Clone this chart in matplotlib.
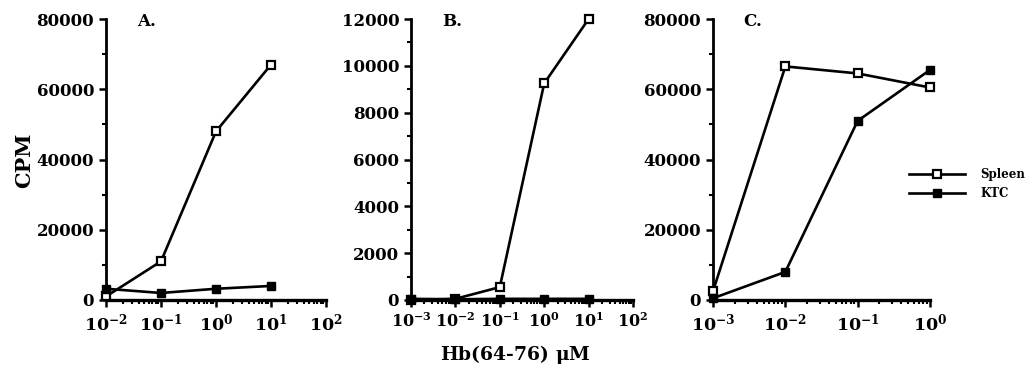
import matplotlib
matplotlib.use("Agg")
import matplotlib.pyplot as plt
from matplotlib.ticker import FixedLocator, FixedFormatter, LogLocator, NullFormatter, MultipleLocator
import numpy as np

plt.rcParams['font.family'] = 'DejaVu Serif'
plt.rcParams['font.weight'] = 'bold'
plt.rcParams['mathtext.fontset'] = 'dejavuserif'

# Panel A
a_dose = [1e-2, 1e-1, 1e0, 1e1]
a_spleen = [1000, 11000, 48000, 67000]
a_ktc = [3200, 2000, 3200, 4000]

# Panel B
b_dose = [1e-3, 1e-2, 1e-1, 1e0, 1e1]
b_spleen = [0, 50, 550, 9250, 12000]
b_ktc = [50, 30, 50, 50, 50]

# Panel C
c_dose = [1e-3, 1e-2, 1e-1, 1e0]
c_spleen = [2500, 66500, 64500, 60500]
c_ktc = [500, 8000, 51000, 65500]

panels = [
    ("A.", a_dose, a_spleen, a_ktc, (1e-2, 1e2), 80000, 20000, 10000, 12.5),
    ("B.", b_dose, b_spleen, b_ktc, (1e-3, 1e2), 12000, 2000, 1000, 11.5),
    ("C.", c_dose, c_spleen, c_ktc, (1e-3, 1e0), 80000, 20000, 10000, 12.5),
]
lefts = [106 / 1032, 411 / 1032, 713 / 1032]
widths = [220 / 1032, 222 / 1032, 217 / 1032]
bottom = 1 - 300 / 370
height = (300 - 19) / 370

fig = plt.figure(figsize=(10.32, 3.70), dpi=100)

for (label, dose, spleen, ktc, xlim, ymax, ymaj, ymin, xls), l, w in zip(panels, lefts, widths):
    ax = fig.add_axes([l, bottom, w, height])
    ax.plot(dose, spleen, color='black', lw=1.9, marker='s', ms=5.5,
            mfc='white', mec='black', mew=1.6, label='Spleen', clip_on=False, zorder=3)
    ax.plot(dose, ktc, color='black', lw=1.9, marker='s', ms=6,
            mfc='black', mec='black', label='KTC', clip_on=False, zorder=3)
    ax.set_xscale('log')
    ax.set_xlim(*xlim)
    ax.set_ylim(0, ymax)
    ax.spines['top'].set_visible(False)
    ax.spines['right'].set_visible(False)
    ax.spines['left'].set_linewidth(2)
    ax.spines['bottom'].set_linewidth(2.4)
    exps = list(range(int(np.log10(xlim[0])), int(np.log10(xlim[1])) + 1))
    ax.xaxis.set_major_locator(FixedLocator([10.0 ** e for e in exps]))
    ax.xaxis.set_major_formatter(FixedFormatter([r'$\mathbf{10^{%d}}$' % e for e in exps]))
    ax.xaxis.set_minor_locator(LogLocator(base=10, subs=np.arange(2, 10), numticks=20))
    ax.xaxis.set_minor_formatter(NullFormatter())
    ax.yaxis.set_major_locator(MultipleLocator(ymaj))
    ax.yaxis.set_minor_locator(MultipleLocator(ymin))
    ax.tick_params(axis='both', which='major', direction='out', width=1.8, length=5,
                   labelsize=12)
    ax.tick_params(axis='both', which='minor', direction='out', width=1.5, length=3)
    ax.tick_params(axis='x', which='major', pad=4, labelsize=xls)
    ax.text(0.14, 0.99, label, transform=ax.transAxes, fontsize=12,
            fontweight='bold', ha='left', va='center')

fig.text(24 / 1032, 1 - 160 / 370, 'CPM', rotation=90, fontsize=15,
         fontweight='bold', ha='center', va='center')
fig.text(515 / 1032, 1 - 354 / 370, r'Hb(64-76) $\mathregular{\mu}$M', fontsize=13.5,
         ha='center', va='center')

handles, labels = ax.get_legend_handles_labels()
fig.legend(handles, labels, loc='center left', bbox_to_anchor=(898 / 1032, 1 - 184 / 370),
           frameon=False, fontsize=8.5, handlelength=4.8, handletextpad=1.3,
           labelspacing=0.55)

fig.savefig('out.png', dpi=100)
